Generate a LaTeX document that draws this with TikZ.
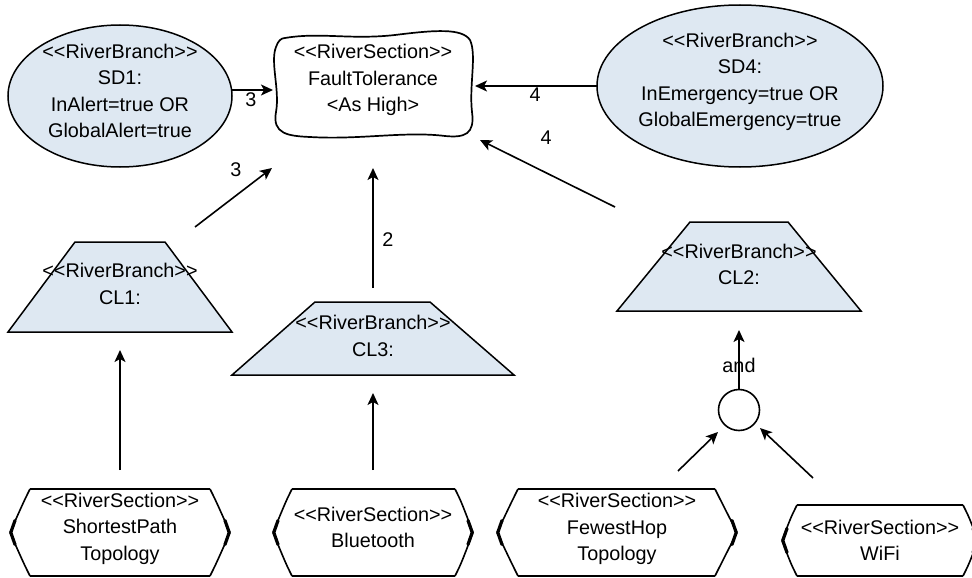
\documentclass[tikz,border=0pt]{standalone}
\usepackage{fontspec}
\setmainfont{Liberation Sans}
\usetikzlibrary{shapes.geometric,arrows.meta}
\definecolor{bfill}{RGB}{222,232,242}
\newcommand\rsbox[6]{%
  \draw[line width=1.4pt] (#2,#5) -- (#3,#5);
  \draw[line width=1.4pt] (#2,#6) -- (#3,#6);
  \draw[line width=1.6pt,line join=round] (#2,#5) .. controls (#2-6,#5+12) .. (#1,{(#5+#6)/2}) .. controls (#2-6,#6-12) .. (#2,#6);
  \draw[line width=1.6pt,line join=round] (#3,#5) .. controls (#3+6,#5+12) .. (#4,{(#5+#6)/2}) .. controls (#3+6,#6-12) .. (#3,#6);
  \draw[line width=3.2pt,line cap=round,line join=round] (#1+5,{(#5+#6)/2-12}) -- (#1+0.8,{(#5+#6)/2}) -- (#1+5,{(#5+#6)/2+12});
  \draw[line width=3.2pt,line cap=round,line join=round] (#4-5,{(#5+#6)/2-12}) -- (#4-0.8,{(#5+#6)/2}) -- (#4-5,{(#5+#6)/2+12});
}
\begin{document}
\begin{tikzpicture}[x=1pt,y=-1pt,
  font=\fontsize{19.8}{26.5}\selectfont,
  conn/.style={line width=1.6pt,-{Stealth[length=12pt,width=11pt,inset=3pt]}},
  lbl/.style={inner sep=0pt},
  txt/.style={align=center,inner sep=0pt},
  oval/.style={ellipse,draw,fill=bfill,line width=1.5pt,inner sep=0pt},
  trap/.style={draw,fill=bfill,line width=1.5pt,line join=miter}]
\useasboundingbox (0,0) rectangle (972,578);

% ellipses
\node[oval,minimum width=224pt,minimum height=142pt] (sd1) at (120,96) {};
\node[txt] (sd1t) at (120,91) {{<}{<}RiverBranch{>}{>}\\SD1:\\InAlert=true OR\\GlobalAlert=true};
\node[oval,minimum width=286pt,minimum height=162pt] (sd4) at (740,86) {};
\node[txt] (sd4t) at (740,82) {{<}{<}RiverBranch{>}{>}\\SD4:\\InEmergency=true OR\\GlobalEmergency=true};

% cloud-like section
\draw[line width=1.7pt,fill=white] (285,38)
  .. controls (320,32) and (350,40) .. (395,35)
  .. controls (435,30) and (462,28) .. (470,40)
  .. controls (477,55) and (469,85) .. (472,112)
  .. controls (475,134) and (465,138) .. (445,136)
  .. controls (405,131) and (360,140) .. (310,137)
  .. controls (288,136) and (272,134) .. (276,112)
  .. controls (280,90) and (270,62) .. (276,47)
  .. controls (278,41) and (281,38) .. (285,38) -- cycle;
\node[txt] (ft) at (373,80) {{<}{<}RiverSection{>}{>}\\FaultTolerance\\{<}As High{>}};

% trapezoids
\draw[trap] (75,242) -- (165,242) -- (232,332) -- (8,332) -- cycle;
\node[txt] (cl1) at (120,284) {{<}{<}RiverBranch{>}{>}\\CL1:};
\draw[trap] (315,302) -- (430,302) -- (514,375) -- (232,375) -- cycle;
\node[txt] (cl3) at (373,336) {{<}{<}RiverBranch{>}{>}\\CL3:};
\draw[trap] (690,222) -- (788,222) -- (861,311) -- (617,311) -- cycle;
\node[txt] (cl2) at (739,264.5) {{<}{<}RiverBranch{>}{>}\\CL2:};

% and circle
\node[circle,draw,line width=1.6pt,minimum size=41pt,inner sep=0pt] (andc) at (739,410) {};

% bottom sections
\rsbox{10}{30}{210}{230}{489}{576}
\node[txt] (sp) at (120,528.5) {{<}{<}RiverSection{>}{>}\\ShortestPath\\Topology};
\rsbox{273}{292}{455}{473}{489}{576}
\node[txt] (bt) at (373,527.5) {{<}{<}RiverSection{>}{>}\\Bluetooth};
\rsbox{497}{518}{715}{737}{489}{576}
\node[txt] (fh) at (617,529) {{<}{<}RiverSection{>}{>}\\FewestHop\\Topology};
\rsbox{782}{797}{963}{978}{505}{576}
\node[txt] (wf) at (880,540.5) {{<}{<}RiverSection{>}{>}\\WiFi};

% connector end points
\coordinate (a1s) at (232,90);   \coordinate (a1e) at (273,90);
\coordinate (a2s) at (597,86);   \coordinate (a2e) at (475,86);
\coordinate (a3s) at (615,207);  \coordinate (a3e) at (480,140);
\coordinate (a4s) at (195,227);  \coordinate (a4e) at (272,168);
\coordinate (a5s) at (373,288);  \coordinate (a5e) at (373,168);
\coordinate (a6s) at (120,470);  \coordinate (a6e) at (120,350);
\coordinate (a7s) at (373,470);  \coordinate (a7e) at (373,393);
\coordinate (a8e) at (739,330);
\coordinate (a9s) at (678,471);  \coordinate (a9e) at (718,432);
\coordinate (a10s) at (813,478); \coordinate (a10e) at (760,428);

\draw[conn] (a1s) -- (a1e);
\draw[conn] (a2s) -- (a2e);
\draw[conn] (a3s) -- (a3e);
\draw[conn] (a4s) -- (a4e);
\draw[conn] (a5s) -- (a5e);
\draw[conn] (a6s) -- (a6e);
\draw[conn] (a7s) -- (a7e);
\draw[conn] (andc) -- (a8e);
\draw[conn] (a9s) -- (a9e);
\draw[conn] (a10s) -- (a10e);

% labels
\node[lbl] (l1) at (251,100) {3};
\node[lbl] (l2) at (535,95) {4};
\node[lbl] (l3) at (546,138) {4};
\node[lbl] (l4) at (236,170) {3};
\node[lbl] (l5) at (388,240) {2};
\node[lbl] (l6) at (739,365) {and};
\end{tikzpicture}
\end{document}
